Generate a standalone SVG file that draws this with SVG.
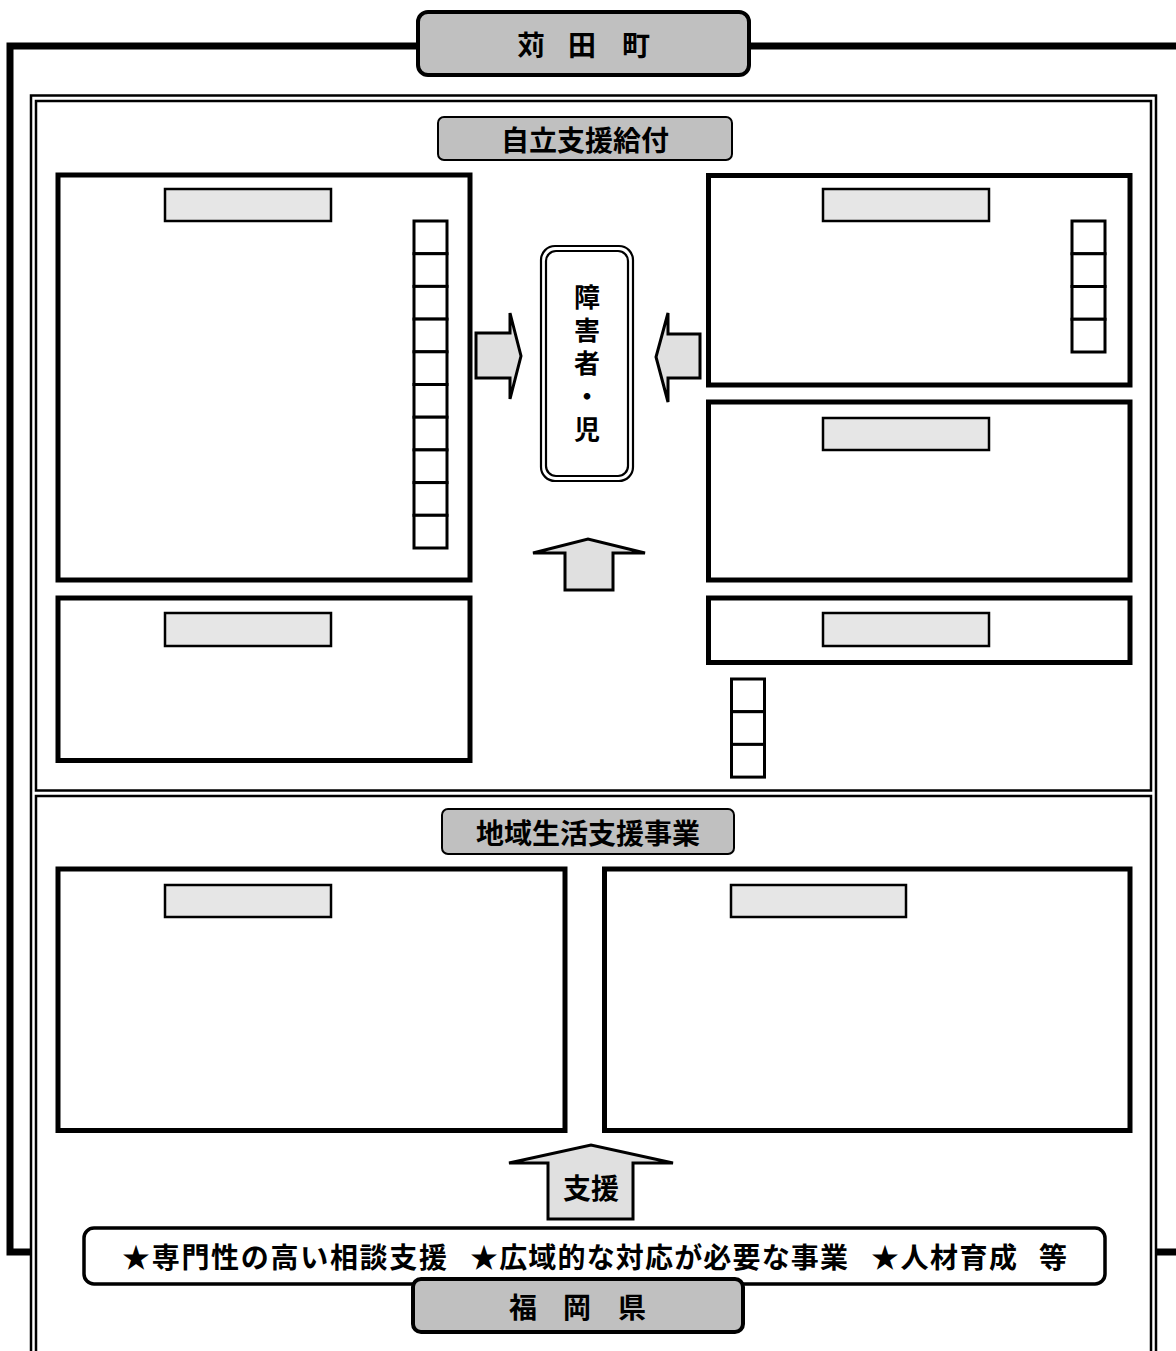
<svg xmlns="http://www.w3.org/2000/svg" width="1176" height="1351" viewBox="0 0 1176 1351">
<style>
.t{font-family:"Noto Sans CJK JP","Noto Sans CJK SC",sans-serif;font-weight:bold;fill:#000;text-anchor:middle;dominant-baseline:central}
.v{font-family:"Noto Sans CJK JP","Noto Sans CJK SC",sans-serif;font-weight:bold;fill:#000;writing-mode:vertical-rl;text-orientation:upright;letter-spacing:7px}
.hdr{fill:#c0c0c0;stroke:#000;stroke-width:4}
.sub{fill:#c0c0c0;stroke:#000;stroke-width:2}
.box{fill:#fff;stroke:#000;stroke-width:5}
.lbl{fill:#e6e6e6;stroke:#000;stroke-width:2.5}
.cell{fill:#fff;stroke:#000;stroke-width:3}
.arr{fill:#e0e0e0;stroke:#000;stroke-width:3;stroke-linejoin:miter}
.frame{fill:none;stroke:#000;stroke-width:2.5}
.thick{fill:none;stroke:#000;stroke-width:7}
</style>
<rect width="1176" height="1351" fill="#fff"/>
<g id="frames">
<path class="thick" d="M418,46 H10 V1252 H31"/>
<path class="thick" d="M749,46 H1180 V1252 H1156"/>
<path class="frame" d="M31,1360 V95.5 H1156 V1360"/>
<path class="frame" d="M36,790.5 V101 H1151 V790.5 Z"/>
<path class="frame" d="M36,1360 V796 H1151 V1360"/>
</g>
<g id="kanda">
<rect class="hdr" x="418" y="12" width="331" height="63" rx="10"/>
<text class="t" y="44" font-size="28"><tspan x="531">苅</tspan><tspan x="582">田</tspan><tspan x="636">町</tspan></text>
</g>
<g id="jiritsu">
<rect class="sub" x="438" y="117" width="294" height="43" rx="6"/>
<text class="t" x="585" y="139" font-size="28">自立支援給付</text>
</g>
<g id="box-left-top">
<rect class="box" x="58" y="175" width="412" height="405"/>
<rect class="lbl" x="165" y="189" width="166" height="32"/>
<rect class="cell" x="414" y="221" width="33" height="32.7"/>
<rect class="cell" x="414" y="253.7" width="33" height="32.7"/>
<rect class="cell" x="414" y="286.4" width="33" height="32.7"/>
<rect class="cell" x="414" y="319.1" width="33" height="32.7"/>
<rect class="cell" x="414" y="351.8" width="33" height="32.7"/>
<rect class="cell" x="414" y="384.5" width="33" height="32.7"/>
<rect class="cell" x="414" y="417.2" width="33" height="32.7"/>
<rect class="cell" x="414" y="449.9" width="33" height="32.7"/>
<rect class="cell" x="414" y="482.6" width="33" height="32.7"/>
<rect class="cell" x="414" y="515.3" width="33" height="32.7"/>
</g>
<g id="box-left-bottom">
<rect class="box" x="58" y="598" width="412" height="162.5"/>
<rect class="lbl" x="165" y="613" width="166" height="33"/>
</g>
<g id="box-right-top">
<rect class="box" x="708.5" y="175.5" width="421.5" height="209.5"/>
<rect class="lbl" x="823" y="189" width="166" height="32"/>
<rect class="cell" x="1072" y="221" width="33" height="32.75"/>
<rect class="cell" x="1072" y="253.75" width="33" height="32.75"/>
<rect class="cell" x="1072" y="286.5" width="33" height="32.75"/>
<rect class="cell" x="1072" y="319.25" width="33" height="32.75"/>
</g>
<g id="box-right-mid">
<rect class="box" x="708.5" y="402" width="421.5" height="178"/>
<rect class="lbl" x="823" y="418" width="166" height="32"/>
</g>
<g id="box-right-small">
<rect class="box" x="708.5" y="598" width="421.5" height="64.5"/>
<rect class="lbl" x="823" y="613" width="166" height="33"/>
</g>
<g id="cells-below">
<rect class="cell" x="731.5" y="679" width="33" height="32.7"/>
<rect class="cell" x="731.5" y="711.7" width="33" height="32.7"/>
<rect class="cell" x="731.5" y="744.4" width="33" height="32.7"/>
</g>
<g id="shogaisha">
<rect x="541" y="246" width="92" height="235" rx="14" fill="#fff" stroke="#000" stroke-width="2.2"/>
<rect x="546" y="251" width="82" height="225" rx="10" fill="none" stroke="#000" stroke-width="2.2"/>
<text class="v" x="587" y="284" font-size="26">障害者・児</text>
</g>
<g id="chiiki">
<rect class="sub" x="442" y="809" width="292" height="45" rx="6"/>
<text class="t" x="588" y="832" font-size="28">地域生活支援事業</text>
</g>
<g id="box-lower-left">
<rect class="box" x="58" y="869" width="507" height="261.5"/>
<rect class="lbl" x="165" y="885" width="166" height="32"/>
</g>
<g id="box-lower-right">
<rect class="box" x="604.5" y="869" width="525.5" height="261.5"/>
<rect class="lbl" x="731" y="885" width="175" height="32"/>
</g>
<g id="banner">
<rect x="84" y="1228" width="1021" height="56" rx="10" fill="#fff" stroke="#000" stroke-width="3.5"/>
<text class="t" font-size="28" y="1256" style="text-anchor:start"><tspan x="122" textLength="325" lengthAdjust="spacing">★専門性の高い相談支援</tspan><tspan x="470" textLength="378" lengthAdjust="spacing">★広域的な対応が必要な事業</tspan><tspan x="871" textLength="146" lengthAdjust="spacing">★人材育成</tspan><tspan x="1039">等</tspan></text>
</g>
<g id="fukuoka">
<rect class="hdr" x="413" y="1279" width="330" height="53" rx="8"/>
<text class="t" y="1306" font-size="28"><tspan x="523">福</tspan><tspan x="577">岡</tspan><tspan x="632">県</tspan></text>
</g>
<g id="connectors">
<polygon class="arr" points="476,333 510,333 510,313 521,356 510,399 510,378 476,378"/>
<polygon class="arr" points="700,334 668,334 668,313 656,357 668,402 668,378 700,378"/>
<polygon class="arr" points="565,590 565,553 533,553 588,539 645,553 613,553 613,590"/>
<polygon class="arr" points="548,1219 548,1163 509,1163 591,1145 673,1163 633,1163 633,1219"/>
<text class="t" x="591" y="1187" font-size="28">支援</text>
</g>
</svg>
